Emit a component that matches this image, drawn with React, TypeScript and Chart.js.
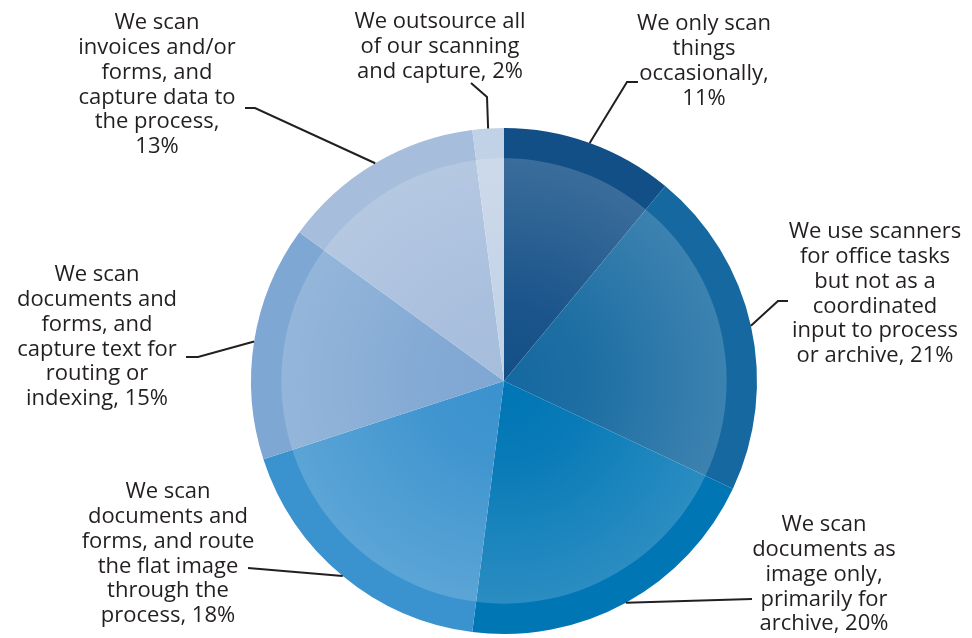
import { useEffect, useRef } from "react";
import { Chart, registerables } from "chart.js";

Chart.register(...registerables);

// ---- Data ----
const categories = [
  "We only scan things occasionally",
  "We use scanners for office tasks but not as a coordinated input to process or archive",
  "We scan documents as image only, primarily for archive",
  "We scan documents and forms, and route the flat image through the process",
  "We scan documents and forms, and capture text for routing or indexing",
  "We scan invoices and/or forms, and capture data to the process",
  "We outsource all of our scanning and capture",
];
const values = [11, 21, 20, 18, 15, 13, 2];
const labelLines = [
  ["We only scan", "things", "occasionally,", "11%"],
  ["We use scanners", "for office tasks", "but not as a", "coordinated", "input to process", "or archive, 21%"],
  ["We scan", "documents as", "image only,", "primarily for", "archive, 20%"],
  ["We scan", "documents and", "forms, and route", "the flat image", "through the", "process, 18%"],
  ["We scan", "documents and", "forms, and", "capture text for", "routing or", "indexing, 15%"],
  ["We scan", "invoices and/or", "forms, and", "capture data to", "the process,", "13%"],
  ["We outsource all", "of our scanning", "and capture, 2%"],
];

// ---- Styling / layout ----
const colors = ["#134f87", "#1569a0", "#0076b5", "#3a92ce", "#7fa7d3", "#a6bddc", "#c2d2e6"];
const labelLayout = [
  { cx: 704, y0: 24, path: [[627, 82], [638, 82]] },
  { cx: 875, y0: 232, path: [[778, 301], [788, 301]] },
  { cx: 824, y0: 525, path: [[752, 599]] },
  { cx: 168, y0: 492, path: [[248, 568]] },
  { cx: 97, y0: 275, path: [[198, 357], [186, 357]] },
  { cx: 157, y0: 23, path: [[255, 108], [245, 108]] },
  { cx: 440, y0: 22, path: [[487, 97], [471, 83]] },
];
const LINE_H = 24.8;
const FONT = "22px 'Open Sans', Lato, sans-serif";
const TEXT_COLOR = "#231f20";

const decorPlugin = {
  id: "decor",
  afterDatasetsDraw(chart: any) {
    const meta = chart.getDatasetMeta(0);
    const ctx = chart.ctx as CanvasRenderingContext2D;
    const first = meta.data[0].getProps(["x", "y", "outerRadius"], true);
    const cx = first.x, cy = first.y;
    const r = first.outerRadius * 0.88;
    const g = ctx.createRadialGradient(cx, cy, 0, cx, cy, r);
    g.addColorStop(0, "rgba(255,255,255,0)");
    g.addColorStop(0.35, "rgba(255,255,255,0.03)");
    g.addColorStop(1, "rgba(255,255,255,0.17)");
    ctx.save();
    ctx.beginPath();
    ctx.arc(cx, cy, r, 0, Math.PI * 2);
    ctx.fillStyle = g;
    ctx.fill();
    ctx.restore();

    ctx.save();
    ctx.strokeStyle = TEXT_COLOR;
    ctx.lineWidth = 2;
    ctx.fillStyle = TEXT_COLOR;
    ctx.font = FONT;
    ctx.textAlign = "center";
    ctx.textBaseline = "middle";
    meta.data.forEach((el: any, i: number) => {
      const p = el.getProps(["x", "y", "startAngle", "endAngle", "outerRadius"], true);
      const mid = (p.startAngle + p.endAngle) / 2;
      const sx = p.x + Math.cos(mid) * p.outerRadius;
      const sy = p.y + Math.sin(mid) * p.outerRadius;
      const lay = labelLayout[i];
      ctx.beginPath();
      ctx.moveTo(sx, sy);
      lay.path.forEach(([px, py]) => ctx.lineTo(px, py));
      ctx.stroke();
      labelLines[i].forEach((t, k) => {
        ctx.fillText(t, lay.cx, lay.y0 + k * LINE_H);
      });
    });
    ctx.restore();
  },
};

export default function App() {
  const ref = useRef<HTMLCanvasElement>(null);
  useEffect(() => {
    if (!ref.current) return;
    const chart = new Chart(ref.current, {
      type: "pie",
      data: {
        labels: categories,
        datasets: [
          {
            data: values,
            backgroundColor: colors,
            borderWidth: 0,
          },
        ],
      },
      options: {
        responsive: false,
        animation: false,
        layout: { padding: { left: 251, right: 215, top: 128, bottom: 4 } },
        plugins: { legend: { display: false }, tooltip: { enabled: false } },
      },
      plugins: [decorPlugin],
    });
    return () => chart.destroy();
  }, []);
  return (
    <div style={{ position: "absolute", left: 0, top: 0, width: 972, height: 638, background: "#fff" }}>
      <canvas ref={ref} width={972} height={638} />
    </div>
  );
}
